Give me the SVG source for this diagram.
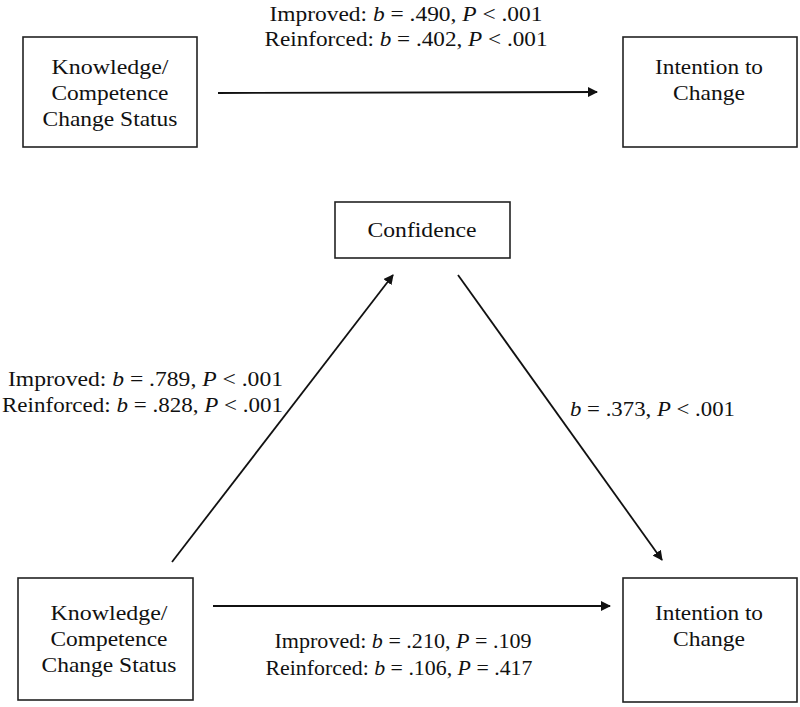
<svg xmlns="http://www.w3.org/2000/svg" width="800" height="707" viewBox="0 0 800 707">
<style>
text{font-family:"Liberation Serif","Times New Roman",serif;font-size:21px;fill:#111}
.b{fill:#fff;stroke:#222;stroke-width:1.6}
.c{stroke:#111;stroke-width:1.8;fill:none;marker-end:url(#a)}
.m{text-anchor:middle}
</style>
<defs><marker id="a" markerWidth="10" markerHeight="10" refX="9" refY="5" orient="auto" markerUnits="userSpaceOnUse"><path d="M0,0L10,5L0,10z" fill="#111"/></marker></defs>
<rect width="800" height="707" fill="#fff"/>
<g id="kcs1"><rect class="b" x="23" y="37" width="174" height="110"/><text class="m" x="110" y="74" textLength="117" lengthAdjust="spacingAndGlyphs">Knowledge/</text><text class="m" x="110" y="100" textLength="117" lengthAdjust="spacingAndGlyphs">Competence</text><text class="m" x="110" y="126" textLength="135" lengthAdjust="spacingAndGlyphs">Change Status</text></g>
<g id="itc1"><rect class="b" x="623" y="37" width="174" height="110"/><text class="m" x="709" y="74" textLength="108" lengthAdjust="spacingAndGlyphs">Intention to</text><text class="m" x="709" y="100" textLength="72" lengthAdjust="spacingAndGlyphs">Change</text></g>
<g id="conf"><rect class="b" x="335" y="202" width="175" height="56"/><text class="m" x="422" y="237" textLength="109" lengthAdjust="spacingAndGlyphs">Confidence</text></g>
<g id="kcs2"><rect class="b" x="18" y="578" width="175" height="122"/><text class="m" x="109" y="620" textLength="117" lengthAdjust="spacingAndGlyphs">Knowledge/</text><text class="m" x="109" y="646" textLength="117" lengthAdjust="spacingAndGlyphs">Competence</text><text class="m" x="109" y="672" textLength="135" lengthAdjust="spacingAndGlyphs">Change Status</text></g>
<g id="itc2"><rect class="b" x="623" y="578" width="174" height="124"/><text class="m" x="709" y="620" textLength="108" lengthAdjust="spacingAndGlyphs">Intention to</text><text class="m" x="709" y="646" textLength="72" lengthAdjust="spacingAndGlyphs">Change</text></g>
<g id="connectors">
<line class="c" x1="218" y1="93" x2="597" y2="92"/>
<line class="c" x1="172" y1="562" x2="393" y2="275"/>
<line class="c" x1="458" y1="275" x2="662" y2="560"/>
<line class="c" x1="213" y1="606" x2="610" y2="606"/>
</g>
<g id="labels">
<text class="m" x="406" y="21" textLength="273" lengthAdjust="spacingAndGlyphs">Improved: <tspan font-style="italic">b</tspan> = .490, <tspan font-style="italic">P</tspan> &lt; .001</text>
<text class="m" x="406" y="46" textLength="283" lengthAdjust="spacingAndGlyphs">Reinforced: <tspan font-style="italic">b</tspan> = .402, <tspan font-style="italic">P</tspan> &lt; .001</text>
<text text-anchor="end" x="283" y="386" textLength="275" lengthAdjust="spacingAndGlyphs">Improved: <tspan font-style="italic">b</tspan> = .789, <tspan font-style="italic">P</tspan> &lt; .001</text>
<text text-anchor="end" x="283" y="412" textLength="281" lengthAdjust="spacingAndGlyphs">Reinforced: <tspan font-style="italic">b</tspan> = .828, <tspan font-style="italic">P</tspan> &lt; .001</text>
<text x="570" y="416" textLength="165" lengthAdjust="spacingAndGlyphs"><tspan font-style="italic">b</tspan> = .373, <tspan font-style="italic">P</tspan> &lt; .001</text>
<text class="m" x="403" y="648" textLength="257" lengthAdjust="spacingAndGlyphs">Improved: <tspan font-style="italic">b</tspan> = .210, <tspan font-style="italic">P</tspan> = .109</text>
<text class="m" x="399" y="675" textLength="267" lengthAdjust="spacingAndGlyphs">Reinforced: <tspan font-style="italic">b</tspan> = .106, <tspan font-style="italic">P</tspan> = .417</text>
</g>
</svg>
